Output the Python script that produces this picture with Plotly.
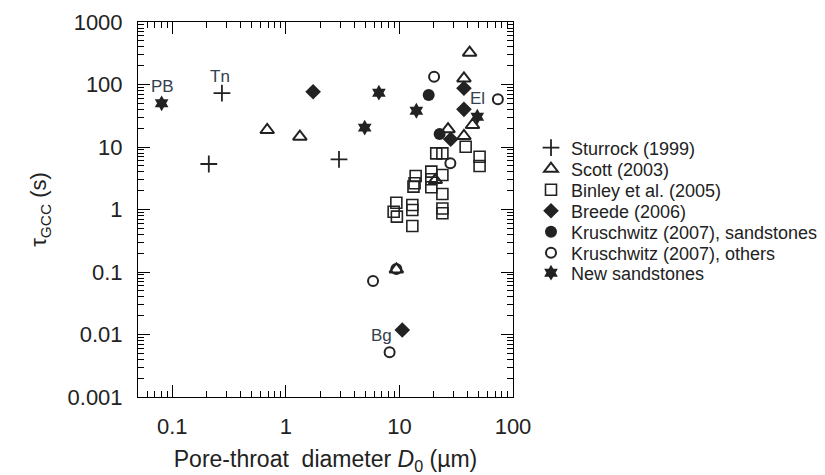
import math
import plotly.graph_objects as go

# ---- data ----
sturrock_x = [0.21, 0.274, 2.94]
sturrock_y = [5.35, 73, 6.35]

scott_x = [0.686, 1.33, 9.4, 20.7, 26.8, 37, 37, 41.5, 44.0]
scott_y = [18.7, 14.6, 0.11, 2.96, 19.3, 15, 125, 323, 22.5]

binley_x = [21.1, 23.9, 50.8, 50.8, 38.3, 13.9, 13.6, 13.3, 19.1, 19.1, 19.1,
            23.9, 23.9, 23.9, 23.9, 9.4, 8.9, 9.5, 13.0, 13.0, 13.0]
binley_y = [7.9, 7.9, 7.0, 4.97, 10.1, 3.44, 2.63, 2.32, 4.03, 3.04, 2.27,
            3.56, 1.77, 1.04, 0.87, 1.28, 0.92, 0.77, 1.18, 0.98, 0.545]

breede_x = [1.74, 37, 37, 28.3, 10.6]
breede_y = [76.7, 87, 40, 13.3, 0.0118]

krus_sand_x = [18.1, 22.6]
krus_sand_y = [68, 16.1]

krus_other_x = [20.2, 73.6, 28.1, 5.86, 9.4, 8.2]
krus_other_y = [133, 58, 5.5, 0.0718, 0.112, 0.0052]

new_sand_x = [0.0807, 4.95, 6.6, 14.1, 48.5]
new_sand_y = [50, 20.4, 74, 38, 30.5]

series_names = ["Sturrock (1999)", "Scott (2003)", "Binley et al. (2005)",
                "Breede (2006)", "Kruschwitz (2007), sandstones",
                "Kruschwitz (2007), others", "New sandstones"]

label_text = ["PB", "Tn", "El", "Bg"]
label_x = [0.0807, 0.274, 73.6, 10.6]
label_y = [50, 73, 58, 0.0118]

x_tickvals = [0.1, 1, 10, 100]
x_ticktext = ["0.1", "1", "10", "100"]
y_tickvals = [0.001, 0.01, 0.1, 1, 10, 100, 1000]
y_ticktext = ["0.001", "0.01", "0.1", "1", "10", "100", "1000"]

# minor tick positions: digits 2..9 of every decade
def minor_vals(lo_exp, hi_exp):
    out = []
    for e in range(lo_exp, hi_exp):
        for d in range(2, 10):
            out.append(d * 10.0 ** e)
    return out

x_minor = [v for v in minor_vals(-2, 2) if v >= 0.05]
y_minor = minor_vals(-3, 3)

# ---- styling ----
INK = "#222222"
FONT = "Liberation Sans, Arial, sans-serif"

styles = [
    dict(symbol="cross-thin-open", size=12, line=dict(width=1.8, color=INK), color=INK),
    dict(symbol="triangle-up-open", size=12, line=dict(width=2, color=INK), color=INK),
    dict(symbol="square-open", size=11, line=dict(width=1.6, color=INK), color=INK),
    dict(symbol="diamond", size=12, line=dict(width=0, color=INK), color=INK),
    dict(symbol="circle", size=12, line=dict(width=0, color=INK), color=INK),
    dict(symbol="circle-open", size=10, line=dict(width=2, color=INK), color=INK),
    dict(symbol="hexagram", size=12, line=dict(width=0, color=INK), color=INK),
]

xs = [sturrock_x, scott_x, binley_x, breede_x, krus_sand_x, krus_other_x, new_sand_x]
ys = [sturrock_y, scott_y, binley_y, breede_y, krus_sand_y, krus_other_y, new_sand_y]

W, H = 825, 475
ml, mr, mt, mb = 138, 312, 22, 78
plot_h = H - mt - mb
x_range = [math.log10(0.05), 2]
y_range = [-3, 3]

fig = go.Figure()
legend_rows_px = [148, 169, 190, 211, 232, 253, 273]
for i, (name, x, y, st) in enumerate(zip(series_names, xs, ys, styles)):
    lg = "legend" if i == 0 else f"legend{i+1}"
    fig.add_trace(go.Scatter(x=x, y=y, mode="markers", name=name, marker=st,
                             legend=lg, showlegend=True))

# invisible copy of one series so that the tick-only overlay axes get drawn
fig.add_trace(go.Scatter(x=sturrock_x, y=sturrock_y, mode="markers",
                         marker=dict(opacity=0, size=1), xaxis="x2", yaxis="y2",
                         showlegend=False, hoverinfo="skip"))

legend_common = dict(
    x=(531 - ml) / (W - ml - mr), xanchor="left", yanchor="middle",
    bgcolor="rgba(0,0,0,0)", borderwidth=0,
    font=dict(family=FONT, size=18, color=INK),
    itemsizing="trace",
)
layout_legends = {}
for i, py in enumerate(legend_rows_px):
    key = "legend" if i == 0 else f"legend{i+1}"
    layout_legends[key] = dict(legend_common, y=1 - (py - mt) / plot_h)

# tick-only overlay axes (inside major + minor ticks on all four sides)
def tick_axis(rng, minor_list, major_list, overlay, anchor, side):
    return dict(type="log", range=rng, overlaying=overlay, anchor=anchor, side=side,
                showticklabels=False, showgrid=False, zeroline=False,
                showline=True, linecolor="black", mirror="allticks",
                ticks="inside", ticklen=12, tickcolor="black",
                tickmode="array", tickvals=major_list,
                minor=dict(ticks="inside", ticklen=6, tickcolor="black",
                           tickmode="array", tickvals=minor_list))

fig.update_layout(
    width=W, height=H,
    margin=dict(l=ml, r=mr, t=mt, b=mb, autoexpand=False),
    paper_bgcolor="white", plot_bgcolor="white", showlegend=True,
    font=dict(family=FONT, color=INK),
    xaxis=dict(type="log", range=x_range, showgrid=False, zeroline=False,
               showline=True, linecolor="black", mirror=True,
               ticks="", ticklabelstandoff=10,
               tickmode="array", tickvals=x_tickvals, ticktext=x_ticktext,
               tickfont=dict(family=FONT, size=22, color=INK),
               title=dict(text="Pore-throat\u00a0 diameter <i>D</i><sub>0</sub> (µm)",
                          font=dict(family=FONT, size=23, color=INK), standoff=20)),
    yaxis=dict(type="log", range=y_range, showgrid=False, zeroline=False,
               showline=True, linecolor="black", mirror=True,
               ticks="", ticklabelstandoff=10,
               tickmode="array", tickvals=y_tickvals, ticktext=y_ticktext,
               tickfont=dict(family=FONT, size=22, color=INK),
               title=dict(text="τ<sub>GCC</sub> (s)",
                          font=dict(family=FONT, size=22, color=INK), standoff=14)),
    xaxis2=tick_axis(x_range, x_minor, x_tickvals, "x", "y2", "bottom"),
    yaxis2=tick_axis(y_range, y_minor, y_tickvals, "y", "x2", "left"),
    **layout_legends,
)

shifts = [(1, 17), (-2, 17), (-20, 1), (-21, -5)]
for t, x, y, (dx, dy) in zip(label_text, label_x, label_y, shifts):
    fig.add_annotation(x=math.log10(x), y=math.log10(y), xref="x", yref="y",
                       text=t, showarrow=False, xshift=dx, yshift=dy,
                       font=dict(family=FONT, size=17, color="#33404d"))

fig.write_html("out.html")
